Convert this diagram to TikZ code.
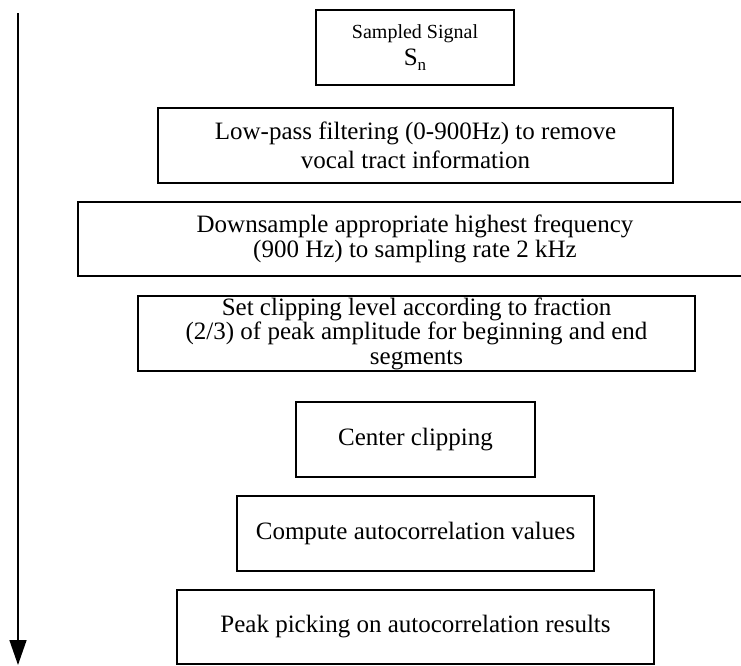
\documentclass[tikz,border=0pt]{standalone}
\usepackage{fontspec}
\setmainfont{Liberation Serif}
\usetikzlibrary{arrows.meta}
\tikzset{
  stage/.style={draw, line width=1.5pt, inner sep=0pt, align=center,
    font=\fontsize{25}{29}\selectfont},
  tightlines/.style={font=\fontsize{25}{24.5}\selectfont},
  flowline/.style={line width=1.5pt, -{Triangle[length=25pt,width=17pt]}}
}
\begin{document}
\begin{tikzpicture}[x=1pt, y=-1pt]
  \clip (0,0) rectangle (741,665);
  \fill[white] (0,0) rectangle (741,665);

  % processing stages, top to bottom
  \node[stage, minimum width=198pt, minimum height=75pt] (sig) at (415,47.5)
    {{\fontsize{20}{25}\selectfont Sampled Signal}\\[-2pt]
     {\fontsize{25}{25}\selectfont S\raisebox{-5pt}{\fontsize{17}{17}\selectfont n}}};
  \node[stage, minimum width=515pt, minimum height=75pt] (lowpass) at (415.5,145.5)
    {Low-pass filtering (0-900Hz) to remove\\vocal tract information};
  \node[stage, tightlines, minimum width=674pt, minimum height=74pt] (down) at (415,239)
    {Downsample appropriate highest frequency\\(900 Hz) to sampling rate 2 kHz};
  \node[stage, tightlines, minimum width=557pt, minimum height=75pt] (level) at (416.5,333.5)
    {Set clipping level according to fraction\\(2/3) of peak amplitude for beginning and end\\segments};
  \node[stage, minimum width=239pt, minimum height=75pt] (clip) at (415.5,439.5)
    {Center clipping};
  \node[stage, minimum width=357pt, minimum height=75pt] (acorr) at (415.5,533.5)
    {Compute autocorrelation values};
  \node[stage, minimum width=477pt, minimum height=74pt] (peak) at (415.5,627)
    {Peak picking on autocorrelation results};

  % processing order
  \coordinate (flowtop) at (18,13);
  \coordinate (flowend) at (18,665);
  \draw[flowline] (flowtop) -- (flowend);
\end{tikzpicture}
\end{document}
